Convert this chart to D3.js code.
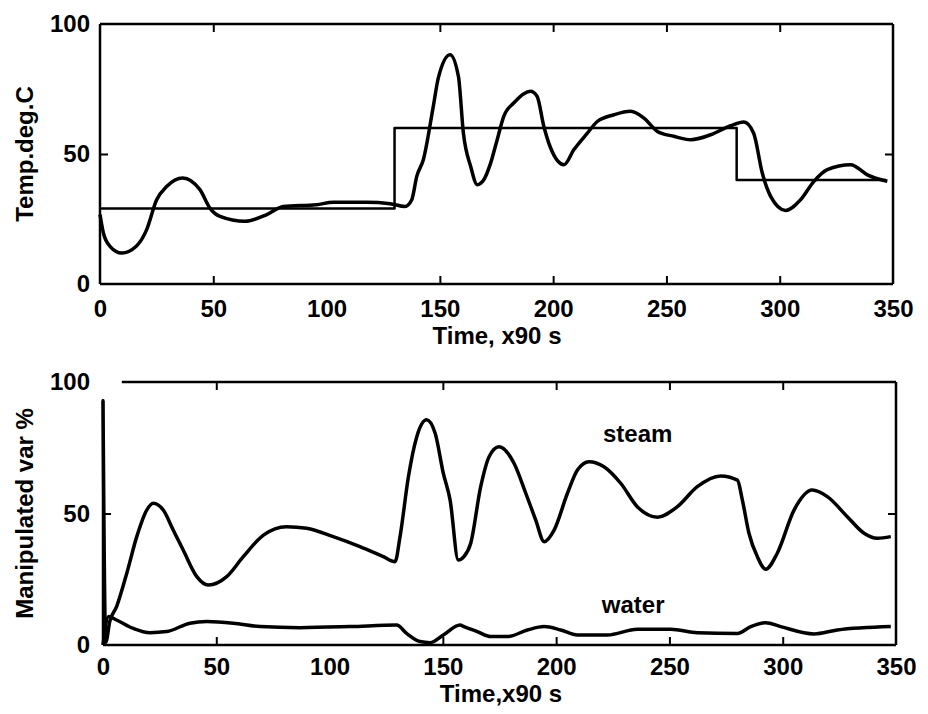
<!DOCTYPE html>
<html>
<head>
	<meta charset="utf-8">
	<title>Temperature control response</title>
</head>

<style>
	body { margin:0; background:#fff; }
	text { font-family:"Liberation Sans", Arial, sans-serif; font-weight:bold; font-size:24px; fill:#000; }
</style>

<body>
<svg width="928" height="714"></svg>
<script src="https://cdn.jsdelivr.net/npm/d3@7"></script>
<script>

	// shared axes
	var xTicks = [0,50,100,150,200,250,300,350];
	var yTicks = [0,50,100];

	// top panel: measured temperature and set point
	var tempTime  = [0,1.5,4.4,9.6,16,20.6,25,29.4,36.5,44.1,48.5,53,64,73.6,80.9,95.6,103,117.7,128,134.6,137.6,139.8,142.7,147.1,149.3,154.5,158.2,160.4,163.6,166.5,169.4,172.4,175.3,178.2,182.6,190,192.9,195.9,198.9,204.8,209.2,215.1,219.5,226.9,234.2,240.1,246,253.3,260.7,269.5,278.4,284.2,288.5,292.3,296,302.6,309.2,315.1,321,331.3,338.7,347.5];
	var tempValue = [26.7,19.6,14.5,11.9,14.5,20.9,32.4,37.5,40.8,36.3,29.2,26,24.1,26.7,29.8,30.5,31.4,31.4,30.9,29.8,32.4,41.4,47.8,68.3,79.2,88.2,79.8,58,45.2,38.2,40.1,46.5,55.5,64.5,69.6,74.1,72.2,60.6,52.3,45.9,51.7,58,62.5,65.1,66.4,63.8,58.7,56.8,55.5,57.4,60.9,62.3,58,42.7,33.7,28.3,32.4,39.5,44,45.9,42,39.5];
	var setTime  = [0,130,281,347];
	var setValue = [29,60,40,40];

	// bottom panel: manipulated variables
	var steamTime  = [0,1.2,3,6,10.5,14.9,19.3,22.2,26.6,31,35.4,41.4,46.5,54.6,61.9,70.8,81,89.9,101.6,113.4,123.7,128.9,131.1,134.8,138.5,142.8,146.6,150.2,153.2,156.8,159.3,162.3,166.7,170.4,174.8,181.4,186.6,191,194.7,199.1,205,209.4,214.5,221.1,228.5,235.8,244.7,253.5,262.3,272.6,280,282.2,285.1,288.8,292.5,297.6,305,313,319.7,328.5,335.9,341.7,347.7];
	var steamValue = [93,1,9,14.6,27.3,41.2,51.3,53.9,51.3,43.7,36.1,26,22.8,26,33.6,41.8,45,44.4,41.2,37.4,33.6,31.7,41.2,64,79.2,85.6,80.5,65.3,55.1,32.3,33.6,38.7,60.2,71.6,75.4,69.1,57.7,47.5,39.3,43.7,57.7,66.5,69.7,67.8,61.5,52.6,48.6,52.6,60.2,64.3,62.7,55.1,42.5,33.6,28.8,34.9,51.3,58.9,56.4,48.8,42.5,40.6,41.2];
	var waterTime  = [0,2.5,6,13.4,20.7,28.1,38.4,45.8,57.5,69.3,86.9,109,129.6,134,139.9,144.3,150.2,157.6,159.3,165.2,171.1,178.5,187.3,194.7,202,209.4,222.6,235.8,250.5,262.3,280,285.9,292.5,299.1,313.8,324.1,347.7];
	var waterValue = [0,10.8,9.5,6.3,4.7,5.1,8.3,8.9,8.3,7,6.6,7,7.6,4.4,1.3,0.9,3.8,7.6,7,5.1,3.2,3.2,5.7,7,5.7,3.8,3.8,6,6,4.7,4.4,7,8.5,7,4.2,5.7,7];

	var svg = d3.select("svg");

	function zip(t,v){ return t.map(function(d,i){ return [d,v[i]]; }); }

	function panel(cfg){
		var x = d3.scaleLinear().domain([0,350]).range([cfg.left,cfg.right]);
		var y = d3.scaleLinear().domain([0,100]).range([cfg.bottom,cfg.top]);
		var g = svg.append("g");

		function clean(sel, labels){
			sel.select(".domain").remove();
			sel.selectAll(".tick line")
			   .attr("stroke","#000").attr("stroke-width",2)
			   .filter(function(d){ return d === 0 || d === 100 || d === 350; }).remove();
			if(!labels) sel.selectAll(".tick text").remove();
		}

		g.append("g").attr("transform","translate(0,"+ cfg.bottom +")")
		 .call(d3.axisBottom(x).tickValues(xTicks).tickSizeInner(-8).tickSizeOuter(0).tickPadding(cfg.xPad))
		 .call(clean, true);
		g.append("g").attr("transform","translate(0,"+ cfg.top +")")
		 .call(d3.axisTop(x).tickValues(xTicks).tickSizeInner(-8).tickSizeOuter(0))
		 .call(clean, false);
		g.append("g").attr("transform","translate("+ cfg.left +",0)")
		 .call(d3.axisLeft(y).tickValues(yTicks).tickSizeInner(-8).tickSizeOuter(0).tickPadding(cfg.yPad))
		 .call(clean, true);
		g.append("g").attr("transform","translate("+ cfg.right +",0)")
		 .call(d3.axisRight(y).tickValues(yTicks).tickSizeInner(-8).tickSizeOuter(0))
		 .call(clean, false);

		// frame, drawn side by side so the bottom one can keep its broken corner
		var frame = g.append("g").attr("stroke","#000").attr("stroke-width",2.5).attr("fill","none");
		frame.append("line").attr("x1",x(0)).attr("x2",x(350)).attr("y1",y(0)).attr("y2",y(0));
		frame.append("line").attr("x1",x(350)).attr("x2",x(350)).attr("y1",y(0)).attr("y2",y(100));
		frame.append("line").attr("x1",x(cfg.topFrom)).attr("x2",x(350)).attr("y1",y(100)).attr("y2",y(100));
		frame.append("line").attr("x1",x(0)).attr("x2",x(0)).attr("y1",y(0)).attr("y2",y(cfg.leftTo));

		var line = d3.line().x(function(d){ return x(d[0]); }).y(function(d){ return y(d[1]); });

		cfg.series.forEach(function(s){
			g.append("path")
			 .datum(s.data)
			 .attr("fill","none")
			 .attr("stroke","#000")
			 .attr("stroke-width",s.width)
			 .attr("stroke-linejoin","round")
			 .attr("d",line.curve(s.curve));
		});

		g.append("text")
		 .attr("text-anchor","middle")
		 .attr("x",cfg.titleX).attr("y",cfg.titleY)
		 .text(cfg.xTitle);

		g.append("text")
		 .attr("text-anchor","middle")
		 .attr("transform","translate(33,"+ (cfg.top+cfg.bottom)/2 +") rotate(-90)")
		 .text(cfg.yTitle);

		(cfg.notes || []).forEach(function(n){
			g.append("text").attr("text-anchor","middle")
			 .attr("x",x(n.t)).attr("y",y(n.v)).text(n.label);
		});
	}

	panel({
		left:100, right:893, top:24, bottom:284,
		xPad:16, yPad:10, topFrom:0, leftTo:100,
		titleX:497, titleY:344,
		xTitle:"Time, x90 s", yTitle:"Temp.deg.C",
		series:[
			{data:zip(setTime,setValue), width:2.5, curve:d3.curveStepAfter},
			{data:zip(tempTime,tempValue), width:3.5, curve:d3.curveMonotoneX}
		]
	});

	panel({
		left:103, right:896, top:382, bottom:645,
		xPad:13, yPad:13, topFrom:8.3, leftTo:93.5,
		titleX:501, titleY:702,
		xTitle:"Time,x90 s", yTitle:"Manipulated var %",
		series:[
			{data:zip(steamTime,steamValue), width:3.5, curve:d3.curveMonotoneX},
			{data:zip(waterTime,waterValue), width:3.5, curve:d3.curveMonotoneX}
		],
		notes:[
			{t:236, v:77, label:"steam"},
			{t:234, v:12, label:"water"}
		]
	});

</script>
</body>
</html>
